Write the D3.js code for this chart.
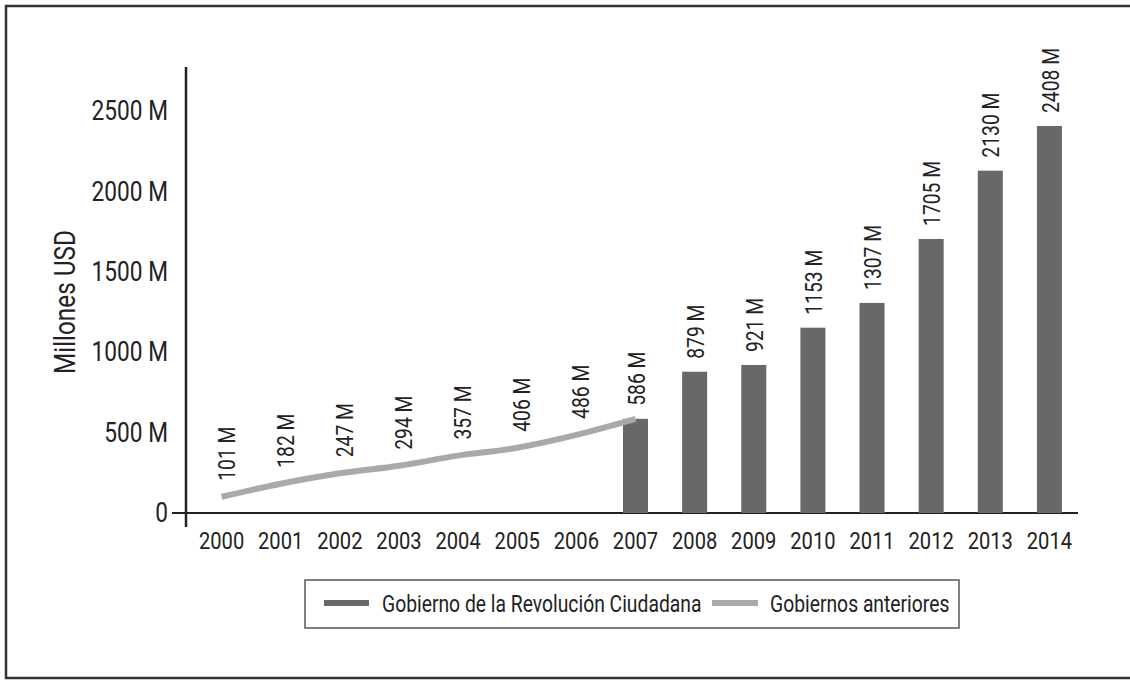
<!DOCTYPE html>
<html>
<head>
<meta charset="utf-8">
<script src="https://cdn.jsdelivr.net/npm/d3@7"></script>
<style>
  html, body { margin: 0; padding: 0; background: #fff; }
  svg { display: block; }
  text { font-family: Roboto, "Liberation Sans", sans-serif; fill: #222; }
</style>
</head>
<body>
<svg id="chart" width="1130" height="680"></svg>
<script>
// Annual amounts, millions of USD
const years = ["2000","2001","2002","2003","2004","2005","2006","2007","2008","2009","2010","2011","2012","2013","2014"];
// Earlier governments (drawn as a line)
const previousYears = ["2000","2001","2002","2003","2004","2005","2006","2007"];
const previousValues = [101, 182, 247, 294, 357, 406, 486, 586];
// Citizen Revolution government (drawn as bars)
const revolutionYears = ["2007","2008","2009","2010","2011","2012","2013","2014"];
const revolutionValues = [586, 879, 921, 1153, 1307, 1705, 2130, 2408];
// Axis ticks
const yTicks = [0, 500, 1000, 1500, 2000, 2500];
const legendLabels = ["Gobierno de la Revolución Ciudadana", "Gobiernos anteriores"];

const barColor = "#686868";
const lineColor = "#a9a9a9";
const NARROW = 0.84; // horizontal squeeze to get a condensed face

// Move x/y into a transform so the glyphs can be squeezed horizontally
function condense(sel, extra) {
  sel.each(function () {
    const t = d3.select(this);
    const px = +t.attr("x") || 0, py = +t.attr("y") || 0;
    t.attr("x", 0).attr("y", 0)
     .attr("transform", `translate(${px},${py}) ${extra || ""} scale(${NARROW},1)`);
  });
}

const svg = d3.select("#chart");

// Outer frame
svg.append("rect")
  .attr("x", 6).attr("y", 6)
  .attr("width", 1140).attr("height", 672)
  .attr("fill", "none").attr("stroke", "#333").attr("stroke-width", 2.5);

const x = d3.scaleBand()
  .domain(years)
  .range([192, 1079])
  .paddingInner(0.577)
  .paddingOuter(0.2885);

const y = d3.scaleLinear()
  .domain([0, 2775])
  .range([513, 67]);

const cx = d => x(d) + x.bandwidth() / 2;

// Y axis labels
const yAxis = svg.append("g")
  .attr("transform", "translate(186,0)")
  .call(d3.axisLeft(y).tickValues(yTicks).tickSize(0).tickPadding(18)
    .tickFormat(d => d === 0 ? "0" : d + " M"));
yAxis.attr("font-family", null).attr("font-size", null);
yAxis.select(".domain").remove();
yAxis.selectAll("text").attr("font-size", 27).attr("fill", "#222");
condense(yAxis.selectAll("text"));

// X axis labels
const xAxis = svg.append("g")
  .attr("transform", "translate(0,513)")
  .call(d3.axisBottom(x).tickSize(0).tickPadding(19));
xAxis.attr("font-family", null).attr("font-size", null);
xAxis.select(".domain").remove();
xAxis.selectAll("text").attr("font-size", 24).attr("fill", "#222");
condense(xAxis.selectAll("text"));

// Axis lines crossing at the origin
svg.append("line")
  .attr("x1", 172).attr("x2", 1078)
  .attr("y1", y(0)).attr("y2", y(0))
  .attr("stroke", "#222").attr("stroke-width", 2);
svg.append("line")
  .attr("x1", 186).attr("x2", 186)
  .attr("y1", y(0) + 14).attr("y2", y.range()[1])
  .attr("stroke", "#222").attr("stroke-width", 2.5);

// Bars
svg.append("g").selectAll("rect")
  .data(revolutionYears.map((yr, i) => ({ yr, v: revolutionValues[i] })))
  .join("rect")
  .attr("x", d => x(d.yr))
  .attr("y", d => y(d.v))
  .attr("width", x.bandwidth())
  .attr("height", d => y(0) - y(d.v))
  .attr("fill", barColor);

// Line of earlier governments
const linePts = previousYears.map((yr, i) => ({ yr, v: previousValues[i] }));
svg.append("path")
  .datum(linePts)
  .attr("fill", "none")
  .attr("stroke", lineColor)
  .attr("stroke-width", 6)
  .attr("d", d3.line().x(d => cx(d.yr)).y(d => y(d.v)).curve(d3.curveMonotoneX));

// Value labels
const labelData = linePts.slice(0, 7).map(d => ({ ...d, off: 16, dx: 5 }))
  .concat(revolutionYears.map((yr, i) => ({ yr, v: revolutionValues[i], off: 13, dx: 1 })));
svg.append("g").selectAll("text")
  .data(labelData)
  .join("text")
  .attr("transform", d => `translate(${cx(d.yr) + d.dx},${y(d.v) - d.off}) rotate(-90) scale(${NARROW},1)`)
  .attr("text-anchor", "start")
  .attr("dominant-baseline", "central")
  .attr("font-size", 23)
  .text(d => d.v + " M");

// Y axis title
const title = svg.append("text")
  .attr("x", 65).attr("y", 302)
  .attr("text-anchor", "middle")
  .attr("dominant-baseline", "central")
  .attr("font-size", 29)
  .text("Millones USD");
condense(title, "rotate(-90)");

// Legend
const lg = svg.append("g");
lg.append("rect")
  .attr("x", 305).attr("y", 580).attr("width", 654).attr("height", 48)
  .attr("fill", "#fff").attr("stroke", "#555").attr("stroke-width", 1.5);
const legendItems = [
  { label: legendLabels[0], color: barColor, sx: 324, sw: 45, tx: 382 },
  { label: legendLabels[1], color: lineColor, sx: 712, sw: 46, tx: 770 }
];
legendItems.forEach(it => {
  lg.append("rect").attr("x", it.sx).attr("y", 600).attr("width", it.sw).attr("height", 6).attr("fill", it.color);
  const t = lg.append("text").attr("x", it.tx).attr("y", 604)
    .attr("dominant-baseline", "central").attr("font-size", 23).text(it.label);
  condense(t);
});
</script>
</body>
</html>
